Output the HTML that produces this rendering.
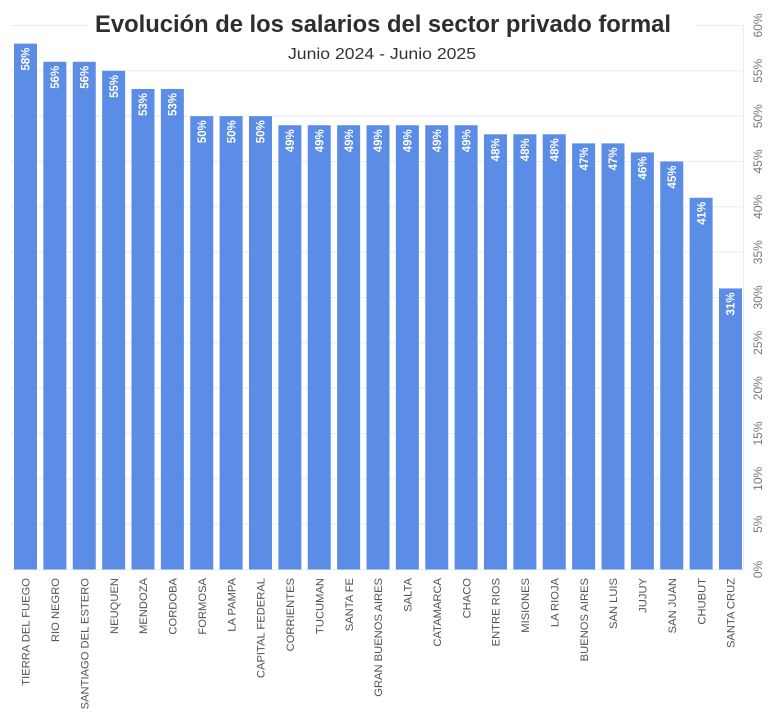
<!DOCTYPE html>
<html><head><meta charset="utf-8"><style>
html,body{margin:0;padding:0;background:#fff;}
svg{display:block;}
</style></head><body>
<svg width="768" height="719" viewBox="0 0 768 719" xmlns="http://www.w3.org/2000/svg" font-family="Liberation Sans, Arial, sans-serif">
<rect width="768" height="719" fill="#fff"/>
<g stroke="#ececec" stroke-width="1">
<line x1="10" y1="25.5" x2="743" y2="25.5"/>
<line x1="10" y1="70.8" x2="743" y2="70.8"/>
<line x1="10" y1="116.2" x2="743" y2="116.2"/>
<line x1="10" y1="161.5" x2="743" y2="161.5"/>
<line x1="10" y1="206.8" x2="743" y2="206.8"/>
<line x1="10" y1="252.2" x2="743" y2="252.2"/>
<line x1="10" y1="297.5" x2="743" y2="297.5"/>
<line x1="10" y1="342.8" x2="743" y2="342.8"/>
<line x1="10" y1="388.2" x2="743" y2="388.2"/>
<line x1="10" y1="433.5" x2="743" y2="433.5"/>
<line x1="10" y1="478.8" x2="743" y2="478.8"/>
<line x1="10" y1="524.2" x2="743" y2="524.2"/>
<line x1="10" y1="569.5" x2="743" y2="569.5"/>
<line x1="743.5" y1="25" x2="743.5" y2="570"/>
</g>
<rect x="88" y="8" width="608" height="32" fill="#fff"/>
<text x="383" y="32" font-size="24" font-weight="bold" fill="#2e2e2e" text-anchor="middle" textLength="576" lengthAdjust="spacingAndGlyphs">Evolución de los salarios del sector privado formal</text>
<text x="382" y="59" font-size="16" fill="#333" text-anchor="middle" textLength="188" lengthAdjust="spacingAndGlyphs">Junio 2024 - Junio 2025</text>
<g font-size="12" fill="#777" text-anchor="middle">
<text transform="translate(762,25.5) rotate(-90)">60%</text>
<text transform="translate(762,70.8) rotate(-90)">55%</text>
<text transform="translate(762,116.2) rotate(-90)">50%</text>
<text transform="translate(762,161.5) rotate(-90)">45%</text>
<text transform="translate(762,206.8) rotate(-90)">40%</text>
<text transform="translate(762,252.2) rotate(-90)">35%</text>
<text transform="translate(762,297.5) rotate(-90)">30%</text>
<text transform="translate(762,342.8) rotate(-90)">25%</text>
<text transform="translate(762,388.2) rotate(-90)">20%</text>
<text transform="translate(762,433.5) rotate(-90)">15%</text>
<text transform="translate(762,478.8) rotate(-90)">10%</text>
<text transform="translate(762,524.2) rotate(-90)">5%</text>
<text transform="translate(762,569.5) rotate(-90)">0%</text>
</g>
<g fill="#5b8de6">
<rect x="14" y="43.63" width="23" height="525.87"/>
<rect x="43.375" y="61.76" width="23" height="507.74"/>
<rect x="72.75" y="61.76" width="23" height="507.74"/>
<rect x="102.125" y="70.83" width="23" height="498.67"/>
<rect x="131.5" y="88.96" width="23" height="480.54"/>
<rect x="160.875" y="88.96" width="23" height="480.54"/>
<rect x="190.25" y="116.17" width="23" height="453.33"/>
<rect x="219.625" y="116.17" width="23" height="453.33"/>
<rect x="249" y="116.17" width="23" height="453.33"/>
<rect x="278.375" y="125.23" width="23" height="444.27"/>
<rect x="307.75" y="125.23" width="23" height="444.27"/>
<rect x="337.125" y="125.23" width="23" height="444.27"/>
<rect x="366.5" y="125.23" width="23" height="444.27"/>
<rect x="395.875" y="125.23" width="23" height="444.27"/>
<rect x="425.25" y="125.23" width="23" height="444.27"/>
<rect x="454.625" y="125.23" width="23" height="444.27"/>
<rect x="484" y="134.3" width="23" height="435.2"/>
<rect x="513.375" y="134.3" width="23" height="435.2"/>
<rect x="542.75" y="134.3" width="23" height="435.2"/>
<rect x="572.125" y="143.37" width="23" height="426.13"/>
<rect x="601.5" y="143.37" width="23" height="426.13"/>
<rect x="630.875" y="152.43" width="23" height="417.07"/>
<rect x="660.25" y="161.5" width="23" height="408"/>
<rect x="689.625" y="197.77" width="23" height="371.73"/>
<rect x="719" y="288.43" width="23" height="281.07"/>
</g>
<g font-size="11.5" font-weight="bold" fill="#fff" text-anchor="end">
<text transform="translate(29.7,47.63) rotate(-90)">58%</text>
<text transform="translate(59.075,65.76) rotate(-90)">56%</text>
<text transform="translate(88.45,65.76) rotate(-90)">56%</text>
<text transform="translate(117.825,74.83) rotate(-90)">55%</text>
<text transform="translate(147.2,92.96) rotate(-90)">53%</text>
<text transform="translate(176.575,92.96) rotate(-90)">53%</text>
<text transform="translate(205.95,120.17) rotate(-90)">50%</text>
<text transform="translate(235.325,120.17) rotate(-90)">50%</text>
<text transform="translate(264.7,120.17) rotate(-90)">50%</text>
<text transform="translate(294.075,129.23) rotate(-90)">49%</text>
<text transform="translate(323.45,129.23) rotate(-90)">49%</text>
<text transform="translate(352.825,129.23) rotate(-90)">49%</text>
<text transform="translate(382.2,129.23) rotate(-90)">49%</text>
<text transform="translate(411.575,129.23) rotate(-90)">49%</text>
<text transform="translate(440.95,129.23) rotate(-90)">49%</text>
<text transform="translate(470.325,129.23) rotate(-90)">49%</text>
<text transform="translate(499.7,138.3) rotate(-90)">48%</text>
<text transform="translate(529.075,138.3) rotate(-90)">48%</text>
<text transform="translate(558.45,138.3) rotate(-90)">48%</text>
<text transform="translate(587.825,147.37) rotate(-90)">47%</text>
<text transform="translate(617.2,147.37) rotate(-90)">47%</text>
<text transform="translate(646.575,156.43) rotate(-90)">46%</text>
<text transform="translate(675.95,165.5) rotate(-90)">45%</text>
<text transform="translate(705.325,201.77) rotate(-90)">41%</text>
<text transform="translate(734.7,292.43) rotate(-90)">31%</text>
</g>
<g font-size="11.2" fill="#555" text-anchor="end">
<text transform="translate(29.7,578) rotate(-90)">TIERRA DEL FUEGO</text>
<text transform="translate(59.075,578) rotate(-90)">RIO NEGRO</text>
<text transform="translate(88.45,578) rotate(-90)">SANTIAGO DEL ESTERO</text>
<text transform="translate(117.825,578) rotate(-90)">NEUQUEN</text>
<text transform="translate(147.2,578) rotate(-90)">MENDOZA</text>
<text transform="translate(176.575,578) rotate(-90)">CORDOBA</text>
<text transform="translate(205.95,578) rotate(-90)">FORMOSA</text>
<text transform="translate(235.325,578) rotate(-90)">LA PAMPA</text>
<text transform="translate(264.7,578) rotate(-90)">CAPITAL FEDERAL</text>
<text transform="translate(294.075,578) rotate(-90)">CORRIENTES</text>
<text transform="translate(323.45,578) rotate(-90)">TUCUMAN</text>
<text transform="translate(352.825,578) rotate(-90)">SANTA FE</text>
<text transform="translate(382.2,578) rotate(-90)">GRAN BUENOS AIRES</text>
<text transform="translate(411.575,578) rotate(-90)">SALTA</text>
<text transform="translate(440.95,578) rotate(-90)">CATAMARCA</text>
<text transform="translate(470.325,578) rotate(-90)">CHACO</text>
<text transform="translate(499.7,578) rotate(-90)">ENTRE RIOS</text>
<text transform="translate(529.075,578) rotate(-90)">MISIONES</text>
<text transform="translate(558.45,578) rotate(-90)">LA RIOJA</text>
<text transform="translate(587.825,578) rotate(-90)">BUENOS AIRES</text>
<text transform="translate(617.2,578) rotate(-90)">SAN LUIS</text>
<text transform="translate(646.575,578) rotate(-90)">JUJUY</text>
<text transform="translate(675.95,578) rotate(-90)">SAN JUAN</text>
<text transform="translate(705.325,578) rotate(-90)">CHUBUT</text>
<text transform="translate(734.7,578) rotate(-90)">SANTA CRUZ</text>
</g>
</svg>
</body></html>
